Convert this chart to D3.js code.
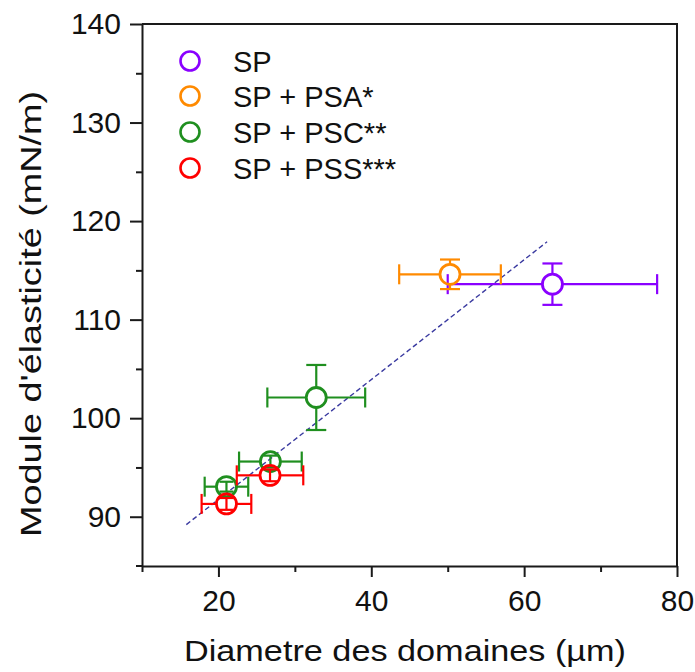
<!DOCTYPE html>
<html>
<head>
<meta charset="utf-8">
<script src="https://cdn.jsdelivr.net/npm/d3@7"></script>
<style>
  html, body { margin: 0; padding: 0; background: #fff; }
  svg { display: block; font-family: "Liberation Sans", Arial, sans-serif; }
</style>
</head>
<body>
<svg id="chart" width="695" height="672"></svg>
<script>
// ---------- data ----------
const seriesNames = ["SP", "SP + PSA*", "SP + PSC**", "SP + PSS***"];
const seriesColors = ["#8a00ff", "#ff8a00", "#1f8f1f", "#ff0000"];
const pointSeries = [0, 1, 2, 2, 2, 3, 3];
const diameter    = [63.7, 50.3, 32.8, 26.8, 21.05, 26.75, 21.05];
const diameterErr = [13.7, 6.65, 6.4, 4.1, 2.85, 4.35, 3.25];
const modulus     = [113.6, 114.6, 102.1, 95.6, 93.05, 94.2, 91.3];
const modulusErr  = [2.1, 1.5, 3.3, 0.6, 0.5, 0.6, 0.6];
const fitX = [15.8, 63.0];
const fitY = [89.2, 117.9];
const xMajorTicks = [20, 40, 60, 80];
const xMinorTicks = [10, 30, 50, 70];
const yMajorTicks = [90, 100, 110, 120, 130, 140];
const yMinorTicks = [95, 105, 115, 125, 135];
const xTitle = "Diametre des domaines (µm)";
const yTitle = "Module d'élasticité (mN/m)";

// ---------- layout ----------
const svg = d3.select("#chart");
const L = 142, R = 677, T = 24, B = 566;
const x = d3.scaleLinear().domain([10, 80]).range([L, R]);
const y = d3.scaleLinear().domain([85, 140]).range([B, T]);
const axisColor = "#1a1a1a";

// frame (top and right)
svg.append("path")
  .attr("d", `M${L},${T}H${R}V${B}`)
  .attr("fill", "none").attr("stroke", axisColor).attr("stroke-width", 2);

// x axis
svg.append("g").attr("transform", `translate(0,${B})`)
  .call(d3.axisBottom(x).tickValues(xMajorTicks).tickSize(11).tickSizeOuter(0).tickPadding(13));
svg.append("g").attr("transform", `translate(0,${B})`)
  .call(d3.axisBottom(x).tickValues(xMinorTicks).tickSize(6).tickSizeOuter(0).tickFormat(""))
  .call(g => g.select(".domain").remove());
// y axis
svg.append("g").attr("transform", `translate(${L},0)`)
  .call(d3.axisLeft(y).tickValues(yMajorTicks).tickSize(12).tickSizeOuter(0).tickPadding(9));
svg.append("g").attr("transform", `translate(${L},0)`)
  .call(d3.axisLeft(y).tickValues(yMinorTicks).tickSize(6).tickSizeOuter(0).tickFormat(""))
  .call(g => g.select(".domain").remove());

svg.selectAll(".domain").attr("stroke", axisColor).attr("stroke-width", 2);
svg.selectAll(".tick line").attr("stroke", axisColor).attr("stroke-width", 2);
svg.selectAll(".tick text").attr("font-size", 30).attr("fill", "#111")
  .attr("font-family", '"Liberation Sans", Arial, sans-serif');
// extend x axis slightly to the left as in the reference
svg.append("line").attr("x1", L - 6).attr("x2", L).attr("y1", B).attr("y2", B)
  .attr("stroke", axisColor).attr("stroke-width", 2);

// titles
svg.append("text")
  .attr("x", 405).attr("y", 661)
  .attr("text-anchor", "middle").attr("font-size", 30).attr("fill", "#111")
  .attr("textLength", 442).attr("lengthAdjust", "spacingAndGlyphs")
  .text(xTitle);
svg.append("text")
  .attr("transform", "translate(41,314) rotate(-90)")
  .attr("text-anchor", "middle").attr("font-size", 30).attr("fill", "#111")
  .attr("textLength", 446).attr("lengthAdjust", "spacingAndGlyphs")
  .text(yTitle);

// fit line
svg.append("line")
  .attr("x1", x(fitX[0])).attr("y1", y(fitY[0]))
  .attr("x2", x(fitX[1])).attr("y2", y(fitY[1]))
  .attr("stroke", "#3a3aa0").attr("stroke-width", 1.4)
  .attr("stroke-dasharray", "5,3");

// points with error bars (Origin-style: bar stops at the symbol edge)
const r = 10, cap = 10;
const idx = d3.range(diameter.length);
const order = idx.slice().sort((a, b) => pointSeries[a] - pointSeries[b]);
order.forEach(i => {
  const c = seriesColors[pointSeries[i]];
  const cx = x(diameter[i]), cy = y(modulus[i]);
  const xl = x(diameter[i] - diameterErr[i]), xr = x(diameter[i] + diameterErr[i]);
  const yt = y(modulus[i] + modulusErr[i]), yb = y(modulus[i] - modulusErr[i]);
  const g = svg.append("g").attr("stroke", c).attr("stroke-width", 2.2).attr("fill", "none");
  // horizontal bar
  if (cx - xl > r) g.append("line").attr("x1", xl).attr("x2", cx - r).attr("y1", cy).attr("y2", cy);
  if (xr - cx > r) g.append("line").attr("x1", cx + r).attr("x2", xr).attr("y1", cy).attr("y2", cy);
  g.append("line").attr("x1", xl).attr("x2", xl).attr("y1", cy - cap).attr("y2", cy + cap);
  g.append("line").attr("x1", xr).attr("x2", xr).attr("y1", cy - cap).attr("y2", cy + cap);
  // vertical bar
  if (cy - yt > r) {
    g.append("line").attr("x1", cx).attr("x2", cx).attr("y1", yt).attr("y2", cy - r);
    g.append("line").attr("x1", cx).attr("x2", cx).attr("y1", cy + r).attr("y2", yb);
  } else {
    g.append("line").attr("x1", cx).attr("x2", cx).attr("y1", yt).attr("y2", yb);
  }
  const cw = (cy - yt > r) ? cap : 7;
  g.append("line").attr("x1", cx - cw).attr("x2", cx + cw).attr("y1", yt).attr("y2", yt);
  g.append("line").attr("x1", cx - cw).attr("x2", cx + cw).attr("y1", yb).attr("y2", yb);
  // symbol
  svg.append("circle").attr("cx", cx).attr("cy", cy).attr("r", r)
    .attr("fill", "none").attr("stroke", c).attr("stroke-width", 2.8);
});

// legend
const legY = [61, 96, 132, 168];
seriesNames.forEach((name, k) => {
  svg.append("circle").attr("cx", 190).attr("cy", legY[k]).attr("r", 9.5)
    .attr("fill", "none").attr("stroke", seriesColors[k]).attr("stroke-width", 2.6);
  svg.append("text").attr("x", 233).attr("y", legY[k] + 10.5)
    .attr("font-size", 29).attr("fill", "#111").text(name);
});
</script>
</body>
</html>
